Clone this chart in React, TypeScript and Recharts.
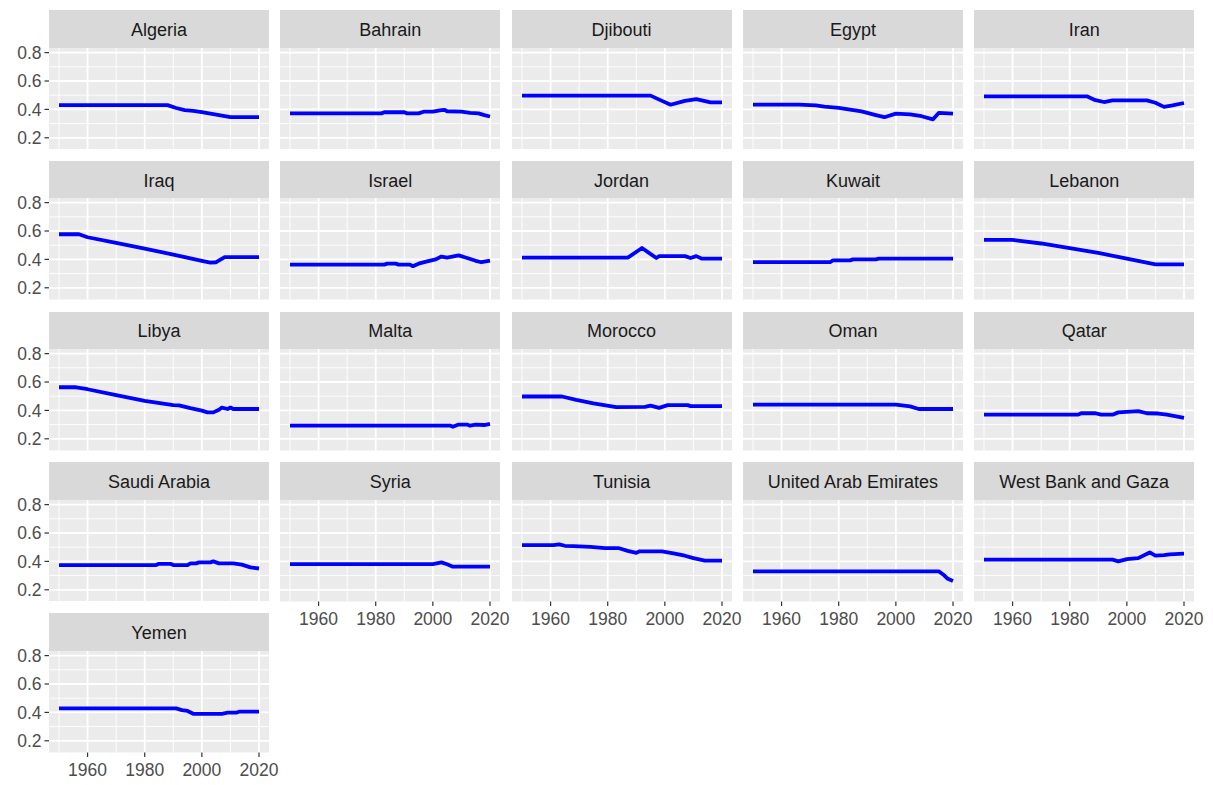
import React from "react";
import {
  LineChart,
  Line,
  XAxis,
  YAxis,
  CartesianGrid,
} from "recharts";

// [year, value] pairs
const algeria = [[1950, 0.43], [1988, 0.43], [1991, 0.41], [1994, 0.395], [1997, 0.39], [2000, 0.38], [2003, 0.37], [2006, 0.36], [2010, 0.345], [2020, 0.345]];
const bahrain = [[1950, 0.372], [1982, 0.372], [1983, 0.38], [1990, 0.38], [1991, 0.372], [1995, 0.372], [1997, 0.385], [2000, 0.385], [2003, 0.395], [2004, 0.397], [2005, 0.387], [2010, 0.385], [2013, 0.376], [2016, 0.372], [2018, 0.36], [2020, 0.35]];
const djibouti = [[1950, 0.497], [1995, 0.497], [1999, 0.46], [2002, 0.433], [2007, 0.46], [2011, 0.472], [2016, 0.45], [2020, 0.45]];
const egypt = [[1950, 0.433], [1966, 0.433], [1972, 0.428], [1975, 0.42], [1980, 0.41], [1988, 0.386], [1993, 0.36], [1996, 0.345], [2000, 0.37], [2005, 0.365], [2009, 0.352], [2013, 0.33], [2015, 0.375], [2020, 0.37]];
const iran = [[1950, 0.492], [1986, 0.492], [1989, 0.465], [1992, 0.452], [1995, 0.463], [2007, 0.463], [2010, 0.447], [2013, 0.418], [2016, 0.428], [2020, 0.445]];
const iraq = [[1950, 0.577], [1957, 0.577], [1960, 0.556], [1970, 0.516], [1980, 0.476], [1990, 0.434], [2000, 0.39], [2003, 0.377], [2005, 0.38], [2008, 0.416], [2020, 0.416]];
const israel = [[1950, 0.363], [1983, 0.363], [1984, 0.37], [1987, 0.37], [1988, 0.363], [1992, 0.363], [1993, 0.352], [1995, 0.37], [1998, 0.386], [2001, 0.4], [2003, 0.42], [2005, 0.412], [2009, 0.428], [2012, 0.41], [2015, 0.39], [2017, 0.38], [2020, 0.392]];
const jordan = [[1950, 0.412], [1987, 0.412], [1992, 0.48], [1997, 0.41], [1998, 0.423], [2007, 0.423], [2009, 0.41], [2011, 0.423], [2013, 0.405], [2020, 0.405]];
const kuwait = [[1950, 0.381], [1977, 0.381], [1978, 0.393], [1984, 0.393], [1985, 0.4], [1993, 0.4], [1994, 0.405], [2020, 0.405]];
const lebanon = [[1950, 0.537], [1960, 0.537], [1970, 0.512], [1980, 0.48], [1990, 0.446], [2000, 0.405], [2010, 0.365], [2020, 0.365]];
const libya = [[1950, 0.563], [1956, 0.563], [1960, 0.549], [1970, 0.507], [1980, 0.467], [1990, 0.437], [1992, 0.436], [1996, 0.416], [2000, 0.398], [2002, 0.386], [2004, 0.386], [2006, 0.405], [2007, 0.42], [2009, 0.41], [2010, 0.42], [2011, 0.41], [2020, 0.41]];
const malta = [[1950, 0.293], [2006, 0.293], [2007, 0.285], [2009, 0.3], [2012, 0.3], [2013, 0.292], [2015, 0.3], [2018, 0.297], [2020, 0.305]];
const morocco = [[1950, 0.498], [1964, 0.498], [1969, 0.474], [1975, 0.45], [1983, 0.423], [1993, 0.425], [1995, 0.433], [1998, 0.418], [2001, 0.437], [2008, 0.437], [2009, 0.43], [2020, 0.43]];
const oman = [[1950, 0.44], [2000, 0.44], [2005, 0.428], [2008, 0.41], [2020, 0.41]];
const qatar = [[1950, 0.37], [1983, 0.37], [1984, 0.38], [1989, 0.38], [1991, 0.37], [1995, 0.37], [1997, 0.386], [2004, 0.395], [2007, 0.38], [2011, 0.378], [2014, 0.37], [2020, 0.347]];
const saudiArabia = [[1950, 0.374], [1984, 0.374], [1985, 0.383], [1989, 0.383], [1990, 0.374], [1995, 0.374], [1996, 0.386], [1998, 0.386], [1999, 0.393], [2003, 0.393], [2004, 0.4], [2006, 0.386], [2011, 0.386], [2014, 0.377], [2017, 0.358], [2020, 0.35]];
const syria = [[1950, 0.381], [2000, 0.381], [2003, 0.393], [2005, 0.38], [2007, 0.363], [2020, 0.363]];
const tunisia = [[1950, 0.514], [1961, 0.514], [1963, 0.52], [1965, 0.51], [1968, 0.507], [1974, 0.502], [1979, 0.493], [1984, 0.493], [1987, 0.474], [1990, 0.46], [1991, 0.47], [1999, 0.47], [2003, 0.456], [2007, 0.44], [2010, 0.423], [2014, 0.405], [2020, 0.405]];
const uae = [[1950, 0.33], [2015, 0.33], [2017, 0.3], [2018, 0.28], [2020, 0.262]];
const westBank = [[1950, 0.412], [1995, 0.412], [1997, 0.4], [2000, 0.416], [2004, 0.423], [2008, 0.463], [2010, 0.44], [2013, 0.444], [2015, 0.45], [2020, 0.455]];
const yemen = [[1950, 0.428], [1991, 0.428], [1993, 0.416], [1995, 0.41], [1997, 0.39], [2007, 0.39], [2009, 0.398], [2012, 0.398], [2013, 0.405], [2020, 0.405]];

const panels: [string, number[][]][] = [
  ["Algeria", algeria],
  ["Bahrain", bahrain],
  ["Djibouti", djibouti],
  ["Egypt", egypt],
  ["Iran", iran],
  ["Iraq", iraq],
  ["Israel", israel],
  ["Jordan", jordan],
  ["Kuwait", kuwait],
  ["Lebanon", lebanon],
  ["Libya", libya],
  ["Malta", malta],
  ["Morocco", morocco],
  ["Oman", oman],
  ["Qatar", qatar],
  ["Saudi Arabia", saudiArabia],
  ["Syria", syria],
  ["Tunisia", tunisia],
  ["United Arab Emirates", uae],
  ["West Bank and Gaza", westBank],
  ["Yemen", yemen],
];

const yTicks = [0.2, 0.4, 0.6, 0.8];
const yMinor = [0.3, 0.5, 0.7];
const xTicks = [1960, 1980, 2000, 2020];
const xMinor = [1950, 1970, 1990, 2010];

const FONT = '"Liberation Sans", Arial, sans-serif';
const COLS = 5;
const PANEL_W = 220;
const STRIP_H = 37.5;
const PLOT_H = 101.5;
const Y_AXIS_W = 49;
const X_AXIS_H = 32;
// extra room so edge tick labels are not clipped
const PAD_TOP = 10;
const PAD_RIGHT = 16;

function Panel({ name, pts, index }: { name: string; pts: number[][]; index: number }) {
  const col = index % COLS;
  const row = Math.floor(index / COLS);
  const hasY = col === 0;
  const hasX = index + COLS >= panels.length;
  const yw = hasY ? Y_AXIS_W : 0;
  const left = 49 + 231.3 * col - yw;
  const top = 10 + 150.75 * row;
  const data = pts.map(([year, value]) => ({ year, value }));

  return (
    <div style={{ position: "absolute", left, top }}>
      <div
        style={{
          marginLeft: yw,
          width: PANEL_W,
          height: STRIP_H,
          boxSizing: "border-box",
          paddingTop: 3,
          background: "#D9D9D9",
          color: "#1A1A1A",
          fontFamily: FONT,
          fontSize: 18,
          display: "flex",
          alignItems: "center",
          justifyContent: "center",
        }}
      >
        {name}
      </div>
      <div style={{ marginTop: -PAD_TOP, position: "relative" }}>
        <LineChart
          width={PANEL_W + yw + PAD_RIGHT}
          height={PLOT_H + PAD_TOP + (hasX ? X_AXIS_H : 0)}
          data={data}
          margin={{ top: PAD_TOP, right: PAD_RIGHT, bottom: 0, left: 0 }}
          style={{ fontFamily: FONT }}
        >
          <CartesianGrid
            fill="#EBEBEB"
            stroke="#FFFFFF"
            strokeWidth={0.9}
            horizontalValues={yMinor}
            verticalValues={xMinor}
          />
          <CartesianGrid
            stroke="#FFFFFF"
            strokeWidth={1.8}
            horizontalValues={yTicks}
            verticalValues={xTicks}
          />
          <XAxis
            dataKey="year"
            type="number"
            domain={[1946.5, 2023.5]}
            ticks={xTicks}
            interval={0}
            hide={!hasX}
            height={X_AXIS_H}
            axisLine={false}
            tickSize={4.5}
            tickMargin={7}
            tickLine={{ stroke: "#333333", strokeWidth: 1.2 }}
            tick={{ fill: "#4D4D4D", fontSize: 17.5 }}
            allowDataOverflow
          />
          <YAxis
            type="number"
            domain={[0.1175, 0.8325]}
            ticks={yTicks}
            interval={0}
            hide={!hasY}
            width={Y_AXIS_W}
            axisLine={false}
            tickSize={4.5}
            tickMargin={3}
            tickLine={{ stroke: "#333333", strokeWidth: 1.2 }}
            tick={{ fill: "#4D4D4D", fontSize: 17.5 }}
            tickFormatter={(v: number) => v.toFixed(1)}
            allowDataOverflow
          />
          <Line
            type="linear"
            dataKey="value"
            stroke="#0000FF"
            strokeWidth={3.8}
            strokeLinejoin="round"
            dot={false}
            isAnimationActive={false}
          />
        </LineChart>
      </div>
    </div>
  );
}

export default function App() {
  return (
    <div
      style={{
        position: "absolute",
        left: 0,
        top: 0,
        width: 1213,
        height: 785,
        background: "#FFFFFF",
        overflow: "hidden",
      }}
    >
      {panels.map(([name, pts], i) => (
        <Panel key={name} name={name} pts={pts} index={i} />
      ))}
    </div>
  );
}
